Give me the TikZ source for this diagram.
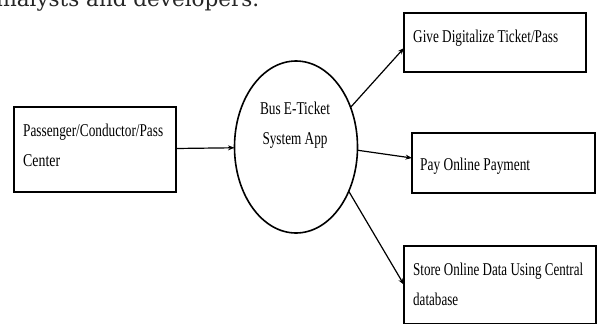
\documentclass[tikz,border=0pt]{standalone}
\usepackage{fontspec}
\usepackage{graphicx}
\setmainfont{Liberation Serif}
\newfontfamily\topfont{DejaVu Serif}
\usetikzlibrary{arrows.meta,shapes.geometric}
% set a line of text at a given width (horizontal scaling only)
\newcommand{\fitw}[2]{\resizebox{#1}{\height}{#2}}
\begin{document}
\begin{tikzpicture}[x=1pt,y=-1pt,
  box/.style={draw, line width=1.9pt, inner sep=0pt, outer sep=0pt},
  bubble/.style={draw, ellipse, line width=1.6pt, inner sep=0pt, outer sep=0pt,
                 minimum width=123pt, minimum height=172pt},
  lbl/.style={anchor=base west, inner sep=0pt, align=left,
              font=\fontsize{18}{30}\selectfont},
  clbl/.style={anchor=base, inner sep=0pt, align=center,
              font=\fontsize{18}{30}\selectfont},
  conn/.style={-{Stealth[length=6.5pt,width=5pt]}, line width=1.2pt}]
\useasboundingbox (0,0) rectangle (597,325);
\clip (0,0) rectangle (597,325);

% top text fragment
\node[anchor=base west, inner sep=0pt, font=\topfont\fontsize{21.5}{24}\selectfont,
      text=black!85] (head) at (-10,6.7) {analysts and developers.};

% boxes
\node[box, minimum width=162pt, minimum height=85pt] (L) at (95,149.5) {};
\node[bubble] (C) at (296,147) {};
\node[box, minimum width=182pt, minimum height=59pt] (T) at (495,42.5) {};
\node[box, minimum width=183pt, minimum height=60pt] (M) at (503.5,163) {};
\node[box, minimum width=192pt, minimum height=77.5pt] (B) at (500,284.75) {};

% labels (multi-line nodes are anchored at the baseline of their last line)
\node[lbl] (Lt) at (23,166) {\fitw{140pt}{Passenger/Conductor/Pass}\\\fitw{37pt}{Center}};
\node[clbl] (Ct) at (295,144) {\fitw{70pt}{Bus E-Ticket}\\\fitw{65pt}{System App}};
\node[lbl] (Tt) at (413,42) {\fitw{145pt}{Give Digitalize Ticket/Pass}};
\node[lbl] (Mt) at (420,170) {\fitw{110pt}{Pay Online Payment}};
\node[lbl] (Bt) at (413,305) {\fitw{170pt}{Store Online Data Using Central}\\\fitw{45pt}{database}};

% connectors
\draw[conn] (L) -- (C);
\draw[conn] (C.36) -- ([yshift=-5.5pt]T.west);
\draw[conn] (C.-3) -- ([yshift=5pt]M.west);
\draw[conn] (C.-40) -- (B.west);
\end{tikzpicture}
\end{document}
